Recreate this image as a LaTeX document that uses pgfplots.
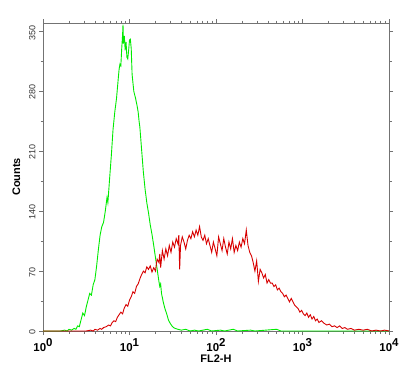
\documentclass[border=0pt]{standalone}
\usepackage{pgfplots}
\pgfplotsset{compat=1.18}
\usepackage{pgfplotstable}
\usepackage{fontspec}
\setmainfont{Liberation Sans}
\definecolor{fgreen}{RGB}{0,235,0}
\definecolor{fred}{RGB}{215,0,0}
\definecolor{axgray}{RGB}{115,115,115}

\pgfplotstableread{
lx y
0.00 0
0.10 0
0.20 0
0.25 1
0.28 0
0.30 2
0.33 1
0.36 3
0.38 2
0.40 6
0.42 5
0.44 13
0.46 21
0.48 18
0.50 28
0.52 36
0.54 44
0.56 42
0.58 54
0.60 60
0.62 76
0.64 95
0.66 112
0.68 122
0.70 127
0.72 140
0.74 156
0.75 150
0.77 178
0.79 205
0.81 236
0.83 256
0.85 272
0.87 295
0.88 306
0.89 312
0.90 310
0.91 330
0.92 346
0.925 358
0.93 336
0.94 345
0.95 328
0.96 338
0.97 320
0.98 318
0.99 328
1.00 340
1.01 341
1.02 330
1.03 300
1.05 280
1.07 272
1.09 262
1.10 256
1.11 246
1.12 238
1.14 212
1.16 186
1.18 166
1.20 150
1.22 138
1.24 124
1.26 113
1.28 100
1.30 86
1.32 72
1.34 58
1.35 52
1.36 55
1.37 44
1.39 34
1.41 26
1.43 20
1.45 13
1.47 9
1.49 6
1.51 4
1.53 3
1.56 2
1.60 1
1.65 2
1.70 0
1.75 1
1.80 0
1.90 2
1.95 0
2.05 1
2.10 0
2.20 2
2.25 0
2.40 1
2.45 0
2.70 2
2.75 0
4.00 0
}\greendata

\pgfplotstableread{
lx y
0.00 0
0.50 0
0.55 1
0.58 0
0.60 2
0.63 1
0.66 3
0.68 2
0.70 4
0.73 5
0.76 7
0.78 6
0.80 10
0.82 12
0.84 11
0.86 16
0.88 19
0.90 22
0.92 20
0.94 27
0.96 31
0.98 29
1.00 36
1.02 40
1.04 46
1.06 44
1.08 52
1.10 55
1.12 61
1.14 66
1.16 70
1.18 68
1.20 75
1.22 72
1.24 76
1.26 69
1.28 74
1.30 70
1.31 78
1.32 84
1.34 80
1.35 90
1.36 74
1.38 94
1.40 84
1.42 96
1.44 88
1.46 100
1.48 92
1.50 104
1.52 98
1.54 108
1.56 102
1.57 112
1.58 72
1.59 100
1.61 110
1.63 104
1.65 96
1.67 106
1.69 112
1.71 108
1.73 116
1.75 110
1.77 118
1.79 112
1.81 122
1.83 110
1.85 106
1.87 112
1.89 102
1.91 108
1.93 100
1.95 92
1.97 104
1.99 96
2.01 88
2.03 110
2.05 102
2.07 94
2.09 108
2.11 98
2.13 90
2.15 104
2.17 96
2.19 108
2.21 92
2.23 100
2.25 94
2.27 104
2.29 98
2.31 108
2.33 102
2.35 118
2.37 100
2.39 92
2.41 88
2.43 80
2.45 70
2.47 82
2.49 58
2.51 72
2.53 68
2.55 62
2.57 66
2.59 56
2.61 60
2.63 56
2.65 56
2.67 52
2.69 54
2.71 48
2.73 50
2.75 46
2.77 44
2.79 40
2.81 42
2.83 38
2.85 34
2.87 38
2.89 34
2.91 30
2.93 28
2.95 26
2.97 22
2.99 24
3.01 20
3.03 18
3.05 21
3.07 16
3.09 19
3.11 14
3.13 17
3.15 12
3.17 14
3.19 10
3.22 12
3.25 9
3.28 7
3.31 8
3.34 5
3.37 6
3.40 4
3.43 6
3.46 3
3.49 4
3.52 2
3.56 3
3.60 1
3.65 2
3.70 1
3.75 2
3.80 0
3.85 1
3.90 0
3.95 1
4.00 0
}\reddata

\begin{document}
\begin{tikzpicture}
\useasboundingbox (-43bp,-42bp) rectangle (370bp,331bp);
\begin{axis}[
  at={(0,0)}, anchor=south west,
  scale only axis, width=346bp, height=308bp,
  xmode=log, xmin=1, xmax=10000, ymin=0, ymax=360,
  axis line style={axgray, line width=0.8pt},
  tick style={axgray, line width=0.6pt},
  tick align=outside,
  major tick length=4bp, minor tick length=2.5bp,
  xtick={1,10,100,1000,10000},
  xticklabels={
    {\textbf{10}\raisebox{0.42em}{\textbf{0}}},
    {\textbf{10}\raisebox{0.42em}{\textbf{1}}},
    {\textbf{10}\raisebox{0.42em}{\textbf{2}}},
    {\textbf{10}\raisebox{0.42em}{\textbf{3}}},
    {\textbf{10}\raisebox{0.42em}{\textbf{4}}}},
  xticklabel style={font=\fontsize{11.5}{12}\selectfont, yshift=0bp},
  ytick={0,70,140,210,280,350},
  minor ytick={35,105,175,245,315},
  yticklabel style={rotate=90, anchor=south, font=\fontsize{9}{10}\selectfont, text=black!80, xshift=-1bp},
  /pgf/number format/assume math mode=true,
  xlabel={\textbf{FL2-H}},
  ylabel={\textbf{Counts}},
  xlabel style={font=\fontsize{11}{12}\selectfont, yshift=3bp},
  ylabel style={font=\fontsize{11}{12}\selectfont, yshift=2bp},
  clip=true,
]
\addplot[fgreen, line width=0.9pt] table[x expr={10^(\thisrow{lx})}, y=y] {\greendata};
\addplot[fred, line width=0.9pt] table[x expr={10^(\thisrow{lx})}, y=y] {\reddata};
\end{axis}
\end{tikzpicture}
\end{document}
